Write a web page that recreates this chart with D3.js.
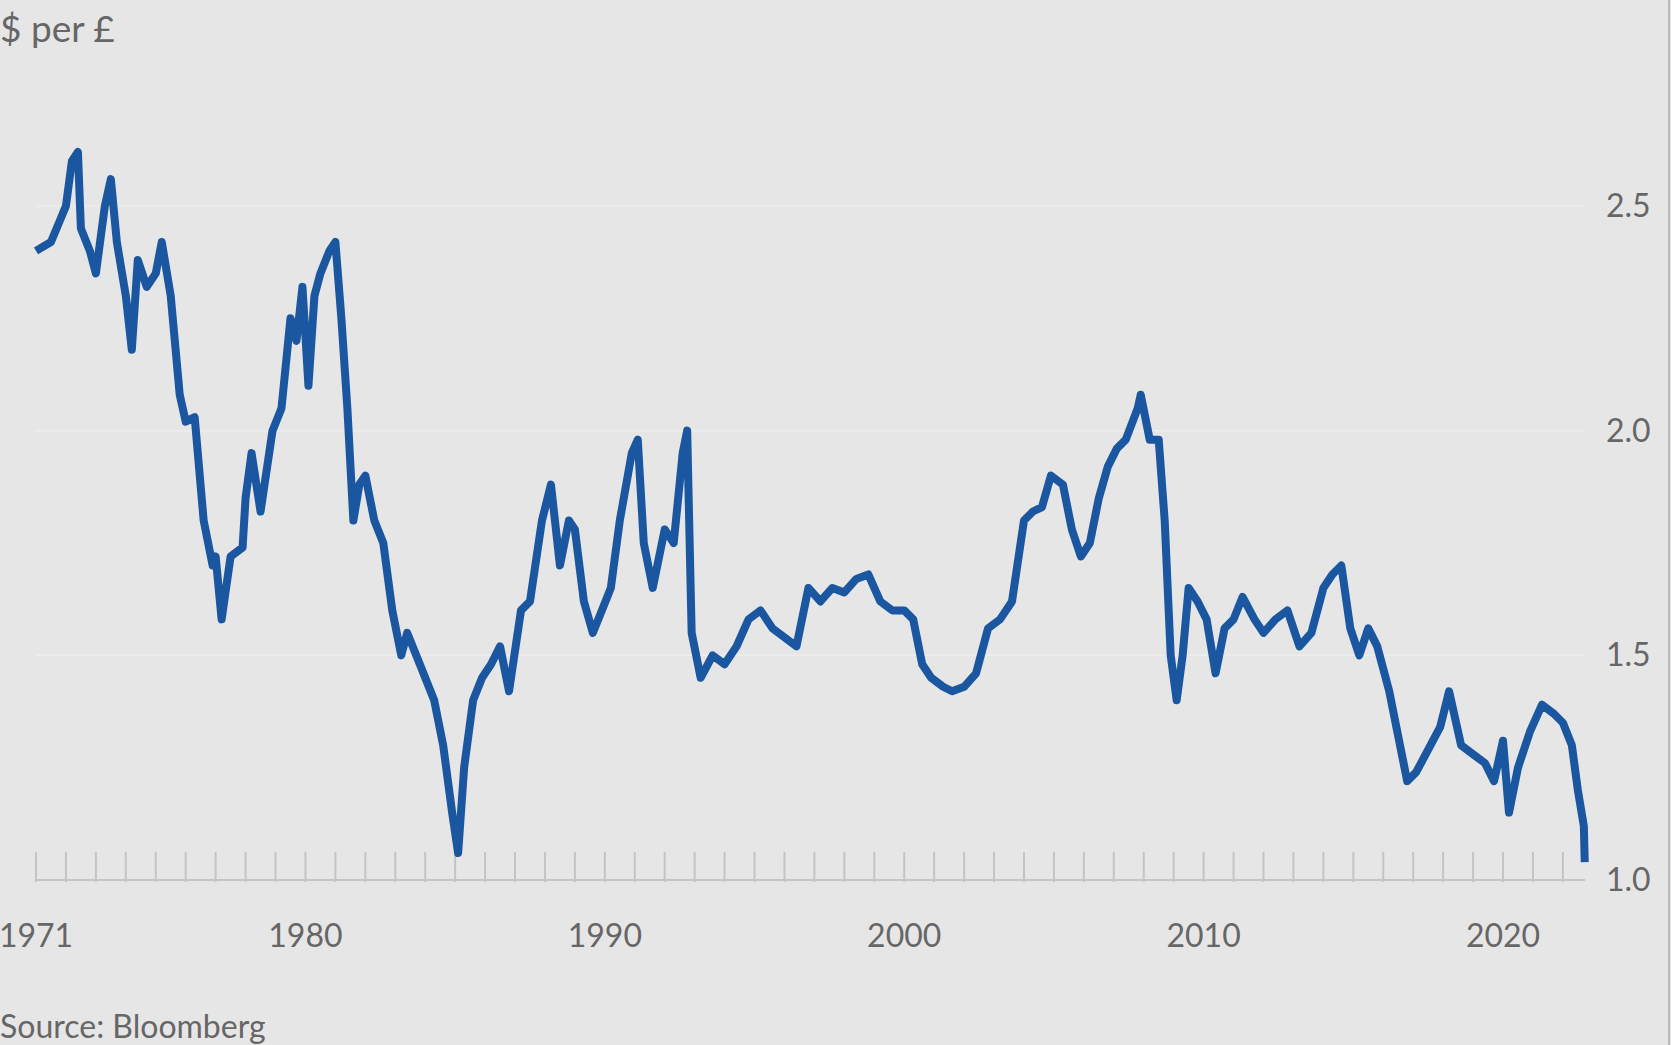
<!DOCTYPE html>
<html><head><meta charset="utf-8">
<script src="https://cdn.jsdelivr.net/npm/d3@7"></script>
<style>body{margin:0;background:#e6e6e6;}svg{display:block;}</style>
</head><body><svg id="c" width="1671" height="1045"></svg>
<script>
const years=[1971.0,1971.5,1972.0,1972.2,1972.4,1972.5,1972.8,1973.0,1973.3,1973.5,1973.7,1974.0,1974.2,1974.4,1974.7,1975.0,1975.2,1975.5,1975.8,1976.0,1976.3,1976.6,1976.9,1977.0,1977.2,1977.5,1977.9,1978.0,1978.2,1978.5,1978.9,1979.2,1979.5,1979.7,1979.9,1980.1,1980.3,1980.5,1980.8,1981.0,1981.2,1981.4,1981.6,1981.8,1982.0,1982.3,1982.6,1982.9,1983.2,1983.4,1983.7,1984.0,1984.3,1984.6,1984.9,1985.1,1985.3,1985.6,1985.9,1986.2,1986.5,1986.8,1987.2,1987.5,1987.9,1988.2,1988.5,1988.8,1989.0,1989.3,1989.6,1989.9,1990.2,1990.5,1990.9,1991.1,1991.3,1991.6,1992.0,1992.3,1992.6,1992.75,1992.9,1993.2,1993.6,1994.0,1994.4,1994.8,1995.2,1995.6,1996.0,1996.4,1996.8,1997.2,1997.6,1998.0,1998.4,1998.8,1999.2,1999.6,2000.0,2000.3,2000.6,2000.9,2001.3,2001.6,2002.0,2002.4,2002.8,2003.2,2003.6,2004.0,2004.3,2004.6,2004.9,2005.3,2005.6,2005.9,2006.2,2006.5,2006.8,2007.1,2007.4,2007.8,2007.9,2008.2,2008.5,2008.7,2008.9,2009.1,2009.3,2009.5,2009.8,2010.1,2010.4,2010.7,2011.0,2011.3,2011.7,2012.0,2012.4,2012.8,2013.2,2013.6,2014.0,2014.3,2014.6,2014.9,2015.2,2015.5,2015.8,2016.2,2016.5,2016.8,2017.1,2017.5,2017.9,2018.2,2018.6,2019.0,2019.4,2019.7,2020.0,2020.2,2020.5,2020.9,2021.3,2021.7,2022.0,2022.3,2022.5,2022.7,2022.73];
const rates=[2.40,2.42,2.50,2.60,2.62,2.45,2.40,2.35,2.50,2.56,2.42,2.30,2.18,2.38,2.32,2.35,2.42,2.30,2.08,2.02,2.03,1.80,1.70,1.72,1.58,1.72,1.74,1.85,1.95,1.82,2.00,2.05,2.25,2.20,2.32,2.10,2.30,2.35,2.40,2.42,2.25,2.05,1.80,1.88,1.90,1.80,1.75,1.60,1.50,1.55,1.50,1.45,1.40,1.30,1.15,1.06,1.25,1.40,1.45,1.48,1.52,1.42,1.60,1.62,1.80,1.88,1.70,1.80,1.78,1.62,1.55,1.60,1.65,1.80,1.95,1.98,1.75,1.65,1.78,1.75,1.95,2.00,1.55,1.45,1.50,1.48,1.52,1.58,1.60,1.56,1.54,1.52,1.65,1.62,1.65,1.64,1.67,1.68,1.62,1.60,1.60,1.58,1.48,1.45,1.43,1.42,1.43,1.46,1.56,1.58,1.62,1.80,1.82,1.83,1.90,1.88,1.78,1.72,1.75,1.85,1.92,1.96,1.98,2.05,2.08,1.98,1.98,1.80,1.50,1.40,1.50,1.65,1.62,1.58,1.46,1.56,1.58,1.63,1.58,1.55,1.58,1.60,1.52,1.55,1.65,1.68,1.70,1.56,1.50,1.56,1.52,1.42,1.32,1.22,1.24,1.29,1.34,1.42,1.30,1.28,1.26,1.22,1.31,1.15,1.25,1.33,1.39,1.37,1.35,1.30,1.20,1.12,1.04];
const yTicks=[1.0,1.5,2.0,2.5];
const xLabels=[1971,1980,1990,2000,2010,2020];

const svg=d3.select("#c");
const x=d3.scaleLinear().domain([1971,2020]).range([36,1503]);
const y=d3.scaleLinear().domain([1,2.5]).range([880,206]);
const grey="#666";
svg.append("g").selectAll("line").data(yTicks.slice(1)).join("line")
 .attr("x1",36).attr("x2",1585).attr("y1",d=>y(d)).attr("y2",d=>y(d))
 .attr("stroke","#ededed").attr("stroke-width",1.5);
svg.append("line").attr("x1",36).attr("x2",1585).attr("y1",y(1)).attr("y2",y(1)).attr("stroke","#c4c4c4").attr("stroke-width",2);
svg.append("line").attr("x1",1669).attr("x2",1669).attr("y1",0).attr("y2",1045).attr("stroke","#bbb").attr("stroke-width",2);
svg.append("g").selectAll("line").data(d3.range(1971,2023)).join("line")
 .attr("x1",d=>x(d)).attr("x2",d=>x(d)).attr("y1",y(1)-28).attr("y2",y(1)+2)
 .attr("stroke","#c4c4c4").attr("stroke-width",2);
svg.append("g").selectAll("text").data(yTicks).join("text")
 .attr("x",1606).attr("y",d=>y(d)+11).text(d=>d.toFixed(1))
 .attr("font-family","Lato, sans-serif").attr("font-size",32).attr("fill",grey);
svg.append("g").selectAll("text").data(xLabels).join("text")
 .attr("x",d=>x(d)).attr("y",947).attr("text-anchor","middle").text(d=>d)
 .attr("font-family","Lato, sans-serif").attr("font-size",32).attr("fill",grey);
svg.append("path").datum(years.map((v,i)=>[v,rates[i]]))
 .attr("d",d3.line().x(d=>x(d[0])).y(d=>y(d[1])))
 .attr("fill","none").attr("stroke","#1a57a0").attr("stroke-width",8).attr("stroke-linejoin","round");
svg.append("text").attr("x",0).attr("y",42).text("$ per £").attr("font-family","Lato, sans-serif").attr("font-size",37).attr("fill",grey);
svg.append("text").attr("x",0).attr("y",1038).text("Source: Bloomberg").attr("font-family","Lato, sans-serif").attr("font-size",32).attr("fill",grey);
</script></body></html>
